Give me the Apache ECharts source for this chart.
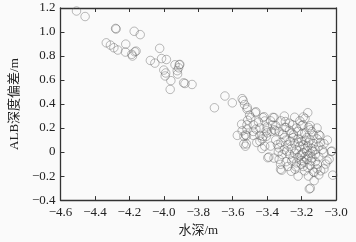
<!DOCTYPE html>
<html><head><meta charset="utf-8">
<script src="https://cdn.jsdelivr.net/npm/echarts@6/dist/echarts.min.js"></script>
<style>html,body{margin:0;padding:0;background:#fafafa}#c{width:356px;height:242px}</style>
</head><body><div id="c"></div>
<script>
const xTicks = [-4.6,-4.4,-4.2,-4.0,-3.8,-3.6,-3.4,-3.2,-3.0];
const yTicks = [-0.4,-0.2,0,0.2,0.4,0.6,0.8,1.0,1.2];
const depth = [
-4.507,-4.457,-4.28,-4.277,-4.172,-4.137,-4.334,-4.31,-4.29,-4.267,-4.221,-4.223,-4.186,-4.182,-4.161,-4.168,-4.078,-4.052,-4.024,-4.013,-3.985,-4.0,-3.989,-3.992,-3.959,-3.963,-3.935,-3.91,-3.907,-3.922,-3.914,-3.92,-3.877,-3.885,-3.836,
-3.645,-3.602,-3.706,-3.545,-3.539,-3.531,-3.515,-3.517,-3.468,-3.465,-3.502,-3.495,-3.513,-3.418,-3.424,-3.414,-3.366,
-3.164,-3.19,-3.18,-3.359,-3.294,-3.253,-3.29,-3.192,-3.16,-3.149,-3.099,-3.368,-3.331,-3.257,-3.219,-3.182,
-3.517,-3.48,-3.442,-3.405,-3.375,-3.35,-3.545,-3.573,-3.535,-3.48,-3.442,-3.405,
-3.526,-3.535,-3.526,-3.442,-3.396,-3.424,-3.414,-3.331,-3.322,-3.359,-3.48,-3.517,-3.548,-3.52,-3.52,-3.39,-3.149,-3.155,-3.019,-3.028,-3.024,-3.093,-3.297,-3.428,-3.465,-3.335,-3.316,-3.233,-3.13,-3.186,
-3.071,-3.052,-3.089,-3.127,-3.182,-3.238,-3.322,-3.312,-3.34,-3.247,-3.201,-3.164,-3.136,-3.191,-3.22,-3.145,-3.108,-3.257,-3.285,-3.266,-3.29,-3.164,-3.127,-3.201,
-3.21,-3.18,-3.15,-3.17,-3.23,-3.2,-3.16,-3.14,-3.12,-3.1,-3.13,-3.19,-3.24,-3.26,-3.22,-3.18,-3.15,-3.17,-3.2,-3.23,-3.12,-3.1,-3.08,-3.09,-3.11,-3.13,-3.2,-3.25,-3.28,-3.3,-3.27,-3.25,-3.29,-3.19,-3.15,-3.11,-3.06,-3.07,-3.14,-3.16,-3.21,-3.18,-3.22,-3.12,-3.17,-3.24,-3.3,-3.32,-3.35,-3.38,-3.36,-3.33,-3.28,-3.26,-3.22,-3.16,-3.1,-3.07,-3.04,-3.05,-3.43,-3.46,-3.4,-3.31,-3.27,-3.23,-3.2,-3.14,-3.11,-3.35,-3.32,-3.27,-3.4,-3.45,-3.38,-3.3,-3.24,-3.21,-3.15
];
const bias = [
1.175,1.129,1.03,1.025,1.006,0.978,0.91,0.891,0.869,0.85,0.899,0.833,0.814,0.80,0.841,0.835,0.763,0.741,0.864,0.779,0.771,0.683,0.659,0.634,0.595,0.522,0.727,0.727,0.73,0.678,0.702,0.65,0.571,0.577,0.563,
0.467,0.41,0.369,0.445,0.429,0.396,0.371,0.357,0.328,0.336,0.308,0.287,0.265,0.295,0.287,0.259,0.289,
0.328,0.292,0.28,0.287,0.254,0.227,0.205,0.227,0.205,0.186,0.144,0.226,0.172,0.158,0.172,0.158,
0.227,0.227,0.2,0.177,0.172,0.177,0.177,0.139,0.131,0.139,0.139,0.131,
0.144,0.068,0.049,0.09,-0.047,0.131,0.049,0.035,-0.143,0.186,0.172,0.19,0.232,0.136,0.068,-0.041,-0.301,-0.307,-0.192,0.005,0.008,0.136,0.205,0.109,0.191,0.001,-0.151,-0.123,-0.164,-0.082,
-0.006,-0.074,-0.156,-0.238,-0.156,-0.143,-0.102,-0.02,0.062,0.144,0.09,0.049,0.008,-0.006,-0.047,-0.074,-0.102,-0.074,0.008,0.09,0.1,-0.129,-0.17,-0.102,
0.05,0.03,0.1,0.12,0.02,-0.02,-0.03,-0.05,0.02,0.05,0.07,0.06,0.07,0.03,0.11,0.1,-0.01,-0.06,-0.07,-0.09,-0.08,-0.04,0.02,0.08,0.11,0.14,0.15,0.12,0.06,0.12,-0.02,-0.05,-0.08,-0.12,-0.11,-0.14,-0.1,0.07,0.03,0.08,-0.03,-0.04,0.08,-0.02,0.01,-0.01,0.02,0.08,0.1,0.05,-0.05,-0.06,-0.12,-0.16,-0.2,-0.2,-0.19,-0.14,-0.06,0.1,0.03,0.08,0.16,0.15,0.18,0.2,0.22,0.17,0.2,0.22,0.26,0.24,0.21,0.25,0.26,0.3,0.29,0.26,0.22
];
const points = depth.map((d,i)=>[d,bias[i]]);
const fmtX = v => (v<0?'\u2212':'') + Math.abs(v).toFixed(1);
const fmtY = v => Math.abs(v)<1e-9 ? '0' : (v<0?'\u2212':'') + Math.abs(v).toFixed(1);
const lab = {fontFamily:'Liberation Serif, serif', fontSize:13, color:'#222'};
const axLine = {show:true, onZero:false, lineStyle:{color:'#333', width:1.3}};
const tick = {show:true, inside:true, length:4, lineStyle:{color:'#333', width:1}};
const chart = echarts.init(document.getElementById('c'));
chart.setOption({
  backgroundColor:'#fafafa',
  animation:false,
  grid:{left:49, right:20, top:8, bottom:39},
  xAxis:[
    {type:'value', min:-4.6, max:-3.0, interval:0.2, axisLine:axLine, axisTick:tick, splitLine:{show:false},
     axisLabel:Object.assign({formatter:fmtX, margin:6}, lab),
     name:'水深/m', nameLocation:'middle', nameGap:22,
     nameTextStyle:{fontFamily:'Liberation Serif, Noto Sans CJK SC, serif', fontSize:13, color:'#222'}},
    {type:'value', position:'top', min:-4.6, max:-3.0, interval:0.2, axisLine:axLine, axisTick:tick, axisLabel:{show:false}, splitLine:{show:false}}
  ],
  yAxis:[
    {type:'value', min:-0.4, max:1.2, interval:0.2, axisLine:axLine, axisTick:tick, splitLine:{show:false},
     axisLabel:Object.assign({formatter:fmtY, margin:5}, lab),
     name:'ALB深度偏差/m', nameLocation:'middle', nameGap:32, nameRotate:90,
     nameTextStyle:{fontFamily:'Liberation Serif, Noto Sans CJK SC, serif', fontSize:13, color:'#222'}},
    {type:'value', position:'right', min:-0.4, max:1.2, interval:0.2, axisLine:axLine, axisTick:tick, axisLabel:{show:false}, splitLine:{show:false}}
  ],
  series:[{
    type:'scatter', data:points, symbol:'circle', symbolSize:8.5,
    itemStyle:{color:'rgba(0,0,0,0)', borderColor:'rgba(90,90,90,0.65)', borderWidth:0.8}
  }]
});
</script></body></html>
